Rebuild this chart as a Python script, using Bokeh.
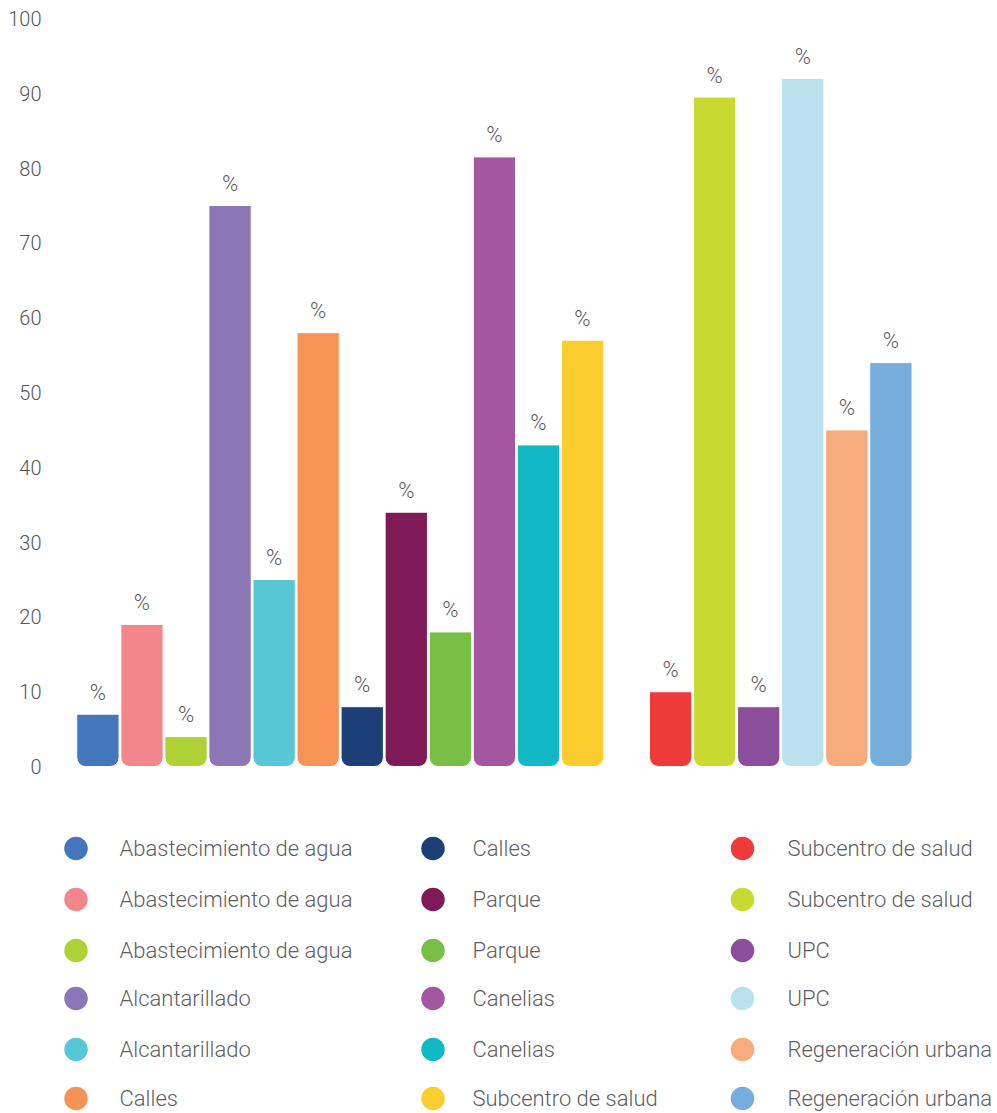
from bokeh.plotting import figure
from bokeh.layouts import column
from bokeh.models import Range1d, ColumnDataSource, FixedTicker
from bokeh.core.properties import value
from bokeh.embed import file_html
from bokeh.resources import INLINE

labels = [
    "Abastecimiento de agua", "Abastecimiento de agua", "Abastecimiento de agua",
    "Alcantarillado", "Alcantarillado", "Calles",
    "Calles", "Parque", "Parque", "Canelias", "Canelias", "Subcentro de salud",
    "Subcentro de salud", "Subcentro de salud", "UPC", "UPC",
    "Regeneración urbana", "Regeneración urbana",
]
values = [7, 19, 4, 75, 25, 58, 8, 34, 18, 81.5, 43, 57, 10, 89.5, 8, 92, 45, 54]
colors = [
    "#4476bb", "#f3868a", "#b0d136", "#8b77b6", "#58c7d5", "#f69355",
    "#1d3f78", "#7e1a55", "#78bf46", "#a556a1", "#13b8c7", "#fccd2e",
    "#ef3a3a", "#c8da32", "#8b4e9b", "#bbe1ee", "#f7aa7c", "#75addd",
]
y_ticks = [0, 10, 20, 30, 40, 50, 60, 70, 80, 90, 100]

FONT = "Roboto Light"
TXT = "#5f6062"

# bar positions: one empty slot after the 12th bar
xs = [i + (1 if i >= 12 else 0) for i in range(len(values))]
src = ColumnDataSource(dict(x=xs, top=values, color=colors,
                            lab=["%"] * len(values)))

p = figure(width=997, height=800, output_backend="svg", toolbar_location=None,
           x_range=Range1d(-0.9626, 20.42), y_range=Range1d(-4.54, 102.41),
           min_border_left=55, min_border_right=0, min_border_top=0,
           min_border_bottom=0)
p.vbar(x="x", top="top", bottom=0, width=0.96, color="color", source=src,
       line_color="white", line_width=1, border_radius=(0, 0, 9, 9))
p.text(x="x", y="top", text="lab", source=src, text_align="center",
       text_baseline="alphabetic", y_offset=-22, text_font=value(FONT),
       text_font_size="22px", text_color="#58595b")

p.xaxis.visible = False
p.xgrid.visible = False
p.ygrid.visible = False
p.outline_line_color = None
ax = p.yaxis[0]
ax.ticker = FixedTicker(ticks=y_ticks)
ax.axis_line_color = None
ax.major_tick_line_color = None
ax.minor_tick_line_color = None
ax.major_label_text_font = FONT
ax.major_label_text_font_size = "20px"
ax.major_label_text_color = "#555555"
ax.major_label_standoff = 8

# legend figure (coordinates equal to page pixels)
n = len(labels)
col_circle_x = [75.5, 432.5, 742]
col_text_x = [119, 472, 787]
row_y = [48, 99, 150, 198, 249, 298]
lx, ly, tx = [], [], []
for i in range(n):
    c, r = i // 6, i % 6
    lx.append(col_circle_x[c])
    tx.append(col_text_x[c])
    ly.append(row_y[r])
lsrc = ColumnDataSource(dict(x=lx, y=ly, tx=tx, color=colors, lab=labels))

lg = figure(width=997, height=313, output_backend="svg", toolbar_location=None,
            x_range=Range1d(55, 997), y_range=Range1d(313, 0),
            min_border=0, min_border_left=55)
lg.scatter(x="x", y="y", size=23.5, color="color", source=lsrc, line_color=None)
lg.text(x="tx", y="y", text="lab", source=lsrc, text_baseline="middle",
        text_align="left", text_font=value(FONT), text_font_size="22px",
        text_color=TXT)
lg.axis.visible = False
lg.grid.visible = False
lg.outline_line_color = None

layout = column(p, lg, spacing=0)
open("out.html", "w").write(file_html(layout, INLINE))
